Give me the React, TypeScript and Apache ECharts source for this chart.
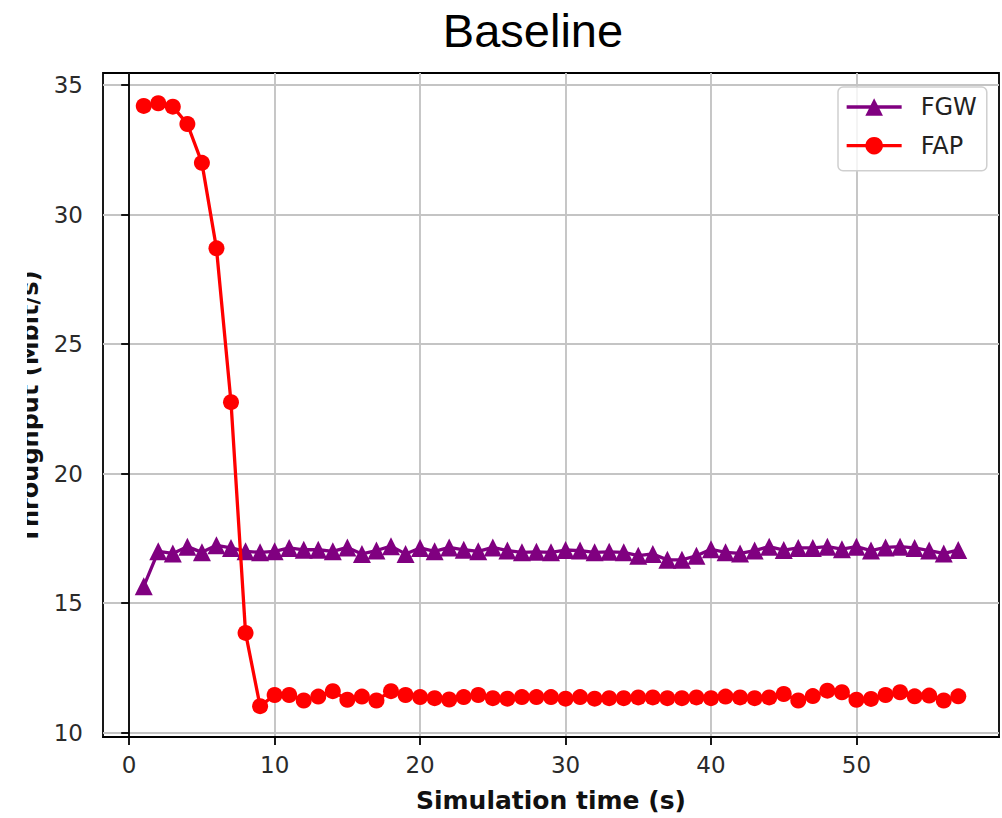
import React, { useEffect, useRef } from "react";
import * as echarts from "echarts";

const times = [
  1, 2, 3, 4, 5, 6, 7, 8, 9, 10, 11, 12, 13, 14, 15, 16, 17, 18, 19, 20,
  21, 22, 23, 24, 25, 26, 27, 28, 29, 30, 31, 32, 33, 34, 35, 36, 37, 38, 39, 40,
  41, 42, 43, 44, 45, 46, 47, 48, 49, 50, 51, 52, 53, 54, 55, 56, 57,
];

const fgw = [
  15.65, 17.0, 16.92, 17.18, 16.96, 17.23, 17.13, 17.0, 16.96, 17.0,
  17.13, 17.06, 17.06, 17.0, 17.15, 16.9, 17.03, 17.2, 16.9, 17.13,
  17.0, 17.15, 17.06, 17.0, 17.15, 17.03, 16.96, 16.98, 16.96, 17.05,
  17.03, 16.96, 16.98, 16.96, 16.83, 16.9, 16.67, 16.67, 16.83, 17.08,
  16.96, 16.92, 17.03, 17.18, 17.05, 17.13, 17.13, 17.18, 17.08, 17.18,
  17.03, 17.15, 17.18, 17.13, 17.03, 16.92, 17.05,
];

const fap = [
  34.2, 34.3, 34.17, 33.5, 32.0, 28.7, 22.76, 13.85, 11.02, 11.45,
  11.45, 11.24, 11.39, 11.6, 11.27, 11.39, 11.24, 11.6, 11.45, 11.37,
  11.33, 11.28, 11.37, 11.45, 11.33, 11.31, 11.37, 11.37, 11.37, 11.31,
  11.37, 11.31, 11.33, 11.33, 11.36, 11.36, 11.33, 11.33, 11.36, 11.33,
  11.39, 11.36, 11.33, 11.36, 11.49, 11.24, 11.41, 11.62, 11.56, 11.27,
  11.3, 11.45, 11.56, 11.4, 11.43, 11.24, 11.4,
];

const xTicks = [0, 10, 20, 30, 40, 50];
const yTicks = [10, 15, 20, 25, 30, 35];

const seriesNames = ["FGW", "FAP"];
const titleText = "Baseline";
const xName = "Simulation time (s)";
const yName = "Throughput (Mbit/s)";

const isTick = (list: number[], v: number) =>
  list.some((t) => Math.abs(t - v) < 1e-6);

export default function App() {
  const ref = useRef<HTMLDivElement>(null);

  useEffect(() => {
    if (!ref.current) return;
    const chart = echarts.init(ref.current, undefined, { renderer: "svg" });
    const font = "DejaVu Sans";
    const axisCommon = {
      axisLine: { show: true, lineStyle: { color: "#000", width: 1.8 } },
      axisTick: {
        show: true,
        inside: false,
        length: 8,
        lineStyle: { color: "#000", width: 1.8 },
      },
      splitLine: { show: true, lineStyle: { color: "#c4c4c4", width: 1.9 } },
    };
    chart.setOption({
      animation: false,
      backgroundColor: "#ffffff",
      grid: {
        left: 103,
        top: 73,
        right: 3,
        bottom: 76,
        show: true,
        borderColor: "#000",
        borderWidth: 1.8,
        containLabel: false,
      },
      xAxis: {
        type: "value",
        min: -1.8,
        max: 59.8,
        splitNumber: 6,
        ...axisCommon,
        axisTick: { ...axisCommon.axisTick, customValues: xTicks },
        axisLabel: {
          customValues: xTicks,
          fontSize: 23,
          fontFamily: font,
          color: "#2a2a2a",
          margin: 16,
          formatter: (v: number) => (isTick(xTicks, v) ? String(v) : ""),
        },
        name: xName,
        nameLocation: "middle",
        nameGap: 51,
        nameTextStyle: {
          fontSize: 25,
          fontWeight: "bold",
          fontFamily: font,
          color: "#111",
        },
      },
      yAxis: {
        type: "value",
        min: 9.83,
        max: 35.47,
        splitNumber: 5,
        ...axisCommon,
        axisTick: { ...axisCommon.axisTick, customValues: yTicks },
        axisLabel: {
          customValues: yTicks,
          fontSize: 23,
          fontFamily: font,
          color: "#2a2a2a",
          margin: 20,
          formatter: (v: number) => (isTick(yTicks, v) ? String(v) : ""),
        },
      },
      legend: {
        data: seriesNames,
        orient: "vertical",
        left: 838,
        top: 87,
        itemWidth: 55,
        itemHeight: 22,
        itemGap: 14.7,
        padding: [8, 10, 13, 7],
        borderColor: "#cfcfcf",
        borderWidth: 1.5,
        borderRadius: 5,
        backgroundColor: "rgba(255,255,255,0.8)",
        selectedMode: false,
        lineStyle: { width: 3.3 },
        textStyle: {
          fontSize: 24,
          fontFamily: font,
          color: "#222",
          lineHeight: 22,
          padding: [0, 0, 0, 14],
        },
      },
      graphic: [
        {
          type: "text",
          x: 533,
          y: 30,
          style: {
            text: titleText,
            font: '47px "Liberation Sans", Arial, sans-serif',
            fill: "#000",
            align: "center",
            verticalAlign: "middle",
          },
        },
        {
          type: "text",
          x: 30,
          y: 407,
          rotation: Math.PI / 2,
          z: 10,
          style: {
            text: yName,
            font: 'bold 24px "DejaVu Sans"',
            fill: "#111",
            align: "center",
            verticalAlign: "middle",
          },
        },
        {
          type: "rect",
          z: 20,
          shape: { x: 0, y: 0, width: 27, height: 818 },
          style: { fill: "#ffffff" },
        },
      ],
      series: [
        {
          name: seriesNames[0],
          type: "line",
          data: times.map((t, i) => [t, fgw[i]]),
          symbol: "triangle",
          symbolSize: 18,
          showAllSymbol: true,
          itemStyle: { color: "#800080" },
          lineStyle: { color: "#800080", width: 3.3 },
          z: 2,
        },
        {
          name: seriesNames[1],
          type: "line",
          data: times.map((t, i) => [t, fap[i]]),
          symbol: "circle",
          symbolSize: 16,
          showAllSymbol: true,
          itemStyle: { color: "#ff0000" },
          lineStyle: { color: "#ff0000", width: 3.3 },
          z: 3,
        },
      ],
    });
    return () => chart.dispose();
  }, []);

  return (
    <div
      ref={ref}
      style={{
        position: "fixed",
        left: 0,
        top: 0,
        width: 1002,
        height: 818,
        background: "#fff",
      }}
    />
  );
}
